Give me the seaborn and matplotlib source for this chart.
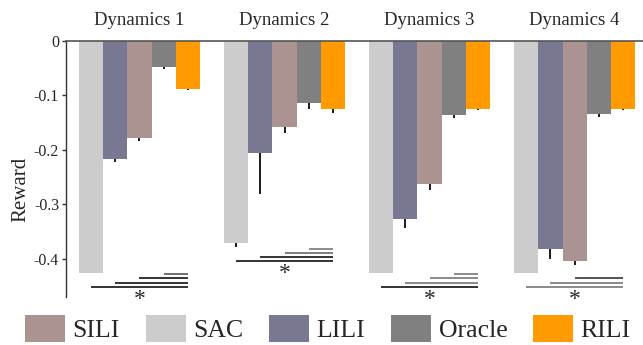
import numpy as np
import pandas as pd
import matplotlib
matplotlib.use("Agg")
import matplotlib.pyplot as plt
import seaborn as sns
from matplotlib.patches import Patch
from matplotlib.transforms import blended_transform_factory

# ---------------- data ----------------
groups = ["Dynamics 1", "Dynamics 2", "Dynamics 3", "Dynamics 4"]
methods = ["SAC", "LILI", "SILI", "Oracle", "RILI"]
legend_order = ["SILI", "SAC", "LILI", "Oracle", "RILI"]

sac_vals = [-0.426, -0.370, -0.426, -0.426]
lili_vals = [-0.2165, -0.2055, -0.327, -0.382]
sili_vals = [-0.179, -0.159, -0.262, -0.404]
oracle_vals = [-0.048, -0.114, -0.136, -0.1345]
rili_vals = [-0.088, -0.125, -0.125, -0.125]

sac_err = [0.0, 0.009, 0.0, 0.0]
lili_err = [0.006, 0.076, 0.017, 0.018]
sili_err = [0.004, 0.011, 0.012, 0.008]
oracle_err = [0.003, 0.012, 0.005, 0.006]
rili_err = [0.003, 0.007, 0.002, 0.002]

# significance of each method vs RILI (per group)
sig_oracle = [True, True, True, False]
sig_sili = [True, True, True, True]
sig_lili = [True, True, True, True]
sig_sac = [True, True, True, True]

yticks = [0, -0.1, -0.2, -0.3, -0.4]
ytick_labels = ["0", "-0.1", "-0.2", "-0.3", "-0.4"]

colors = {"SAC": "#cccccc", "LILI": "#787892", "SILI": "#ab9392",
          "Oracle": "#808080", "RILI": "#ff9a00"}

vals = {"SAC": sac_vals, "LILI": lili_vals, "SILI": sili_vals,
        "Oracle": oracle_vals, "RILI": rili_vals}
errs = {"SAC": sac_err, "LILI": lili_err, "SILI": sili_err,
        "Oracle": oracle_err, "RILI": rili_err}

rows = []
for m in methods:
    for g, v in zip(groups, vals[m]):
        rows.append({"group": g, "method": m, "value": v})
df = pd.DataFrame(rows)

# ---------------- plot ----------------
sns.set_style("white")
plt.rcParams["font.family"] = ["Liberation Serif", "DejaVu Serif"]

fig = plt.figure(figsize=(6.43, 3.45), dpi=100)
ax = fig.add_axes([0.1026, 0.139, 0.8974, 0.743])

sns.barplot(data=df, x="group", y="value", hue="method", hue_order=methods,
            order=groups, palette=colors, width=5/6, gap=0, dodge=True,
            errorbar=None, saturation=1, ax=ax, legend=False)

centers = {}
for m, cont in zip(methods, ax.containers):
    xs = [b.get_x() + b.get_width() / 2 for b in cont]
    centers[m] = xs
    for b in cont:
        b.set_edgecolor("none")
        b.set_linewidth(0)
    ax.errorbar(xs, vals[m], yerr=[errs[m], [0] * len(xs)], fmt="none",
                ecolor="#1a1a1a", elinewidth=1.4, capsize=0, zorder=3)

bw = ax.containers[0][0].get_width()

ax.set_ylim(-0.47, 0)
ax.set_xlim(centers["SAC"][0] - bw / 2 - 0.54 * bw,
            centers["RILI"][-1] + bw / 2 + 0.33 * bw)

ax.set_yticks(yticks)
ax.set_yticklabels(ytick_labels, fontsize=11.5)
ax.set_xticks([])
ax.set_xlabel("")
ax.set_ylabel("Reward", fontsize=15)
ax.yaxis.set_label_coords(-0.062, 0.42)
ax.tick_params(axis="y", direction="out", length=3, width=1, color="#333333",
               left=True, pad=2)

for s in ["right", "bottom"]:
    ax.spines[s].set_visible(False)
ax.spines["left"].set_color("#333333")
ax.spines["top"].set_color("#555555")
ax.spines["left"].set_linewidth(1.0)
ax.spines["top"].set_linewidth(1.2)

trans = blended_transform_factory(ax.transData, ax.transAxes)
for i, g in enumerate(groups):
    ax.text(centers["SILI"][i], 1.045, g, transform=trans, ha="center",
            va="bottom", fontsize=13.5)

step = 0.0078
sig = {"Oracle": sig_oracle, "SILI": sig_sili, "LILI": sig_lili, "SAC": sig_sac}
line_colors = [
    ["#555555", "#111111", "#111111", "#111111"],
    ["#777777", "#666666", "#111111", "#111111"],
    ["#777777", "#777777", "#777777", "#111111"],
    ["#777777", "#333333", "#777777", "#777777"],
]
for i in range(len(groups)):
    lows = [vals[m][i] - errs[m][i] for m in methods]
    top = min(lows) - 0.002
    xr = centers["RILI"][i]
    for k, m in enumerate(["Oracle", "SILI", "LILI", "SAC"]):
        y = top - k * step
        if sig[m][i]:
            ax.plot([centers[m][i], xr], [y, y], color=line_colors[i][k],
                    lw=1.2, solid_capstyle="butt", clip_on=False, zorder=4)
    ybot = top - 3 * step
    ax.text((centers["SAC"][i] + xr) / 2, ybot - 0.003, "*", ha="center",
            va="top", fontsize=17, clip_on=False)

handles = [Patch(facecolor=colors[m], edgecolor="none", label=m)
           for m in legend_order]
fig.legend(handles=handles, loc="lower center", ncol=5, frameon=False,
           fontsize=18.5, bbox_to_anchor=(0.51, -0.015), handlelength=1.55,
           handleheight=1.25, handletextpad=0.3, columnspacing=1.0,
           borderaxespad=0.1, borderpad=0.2)

fig.savefig("out.png", dpi=100)
